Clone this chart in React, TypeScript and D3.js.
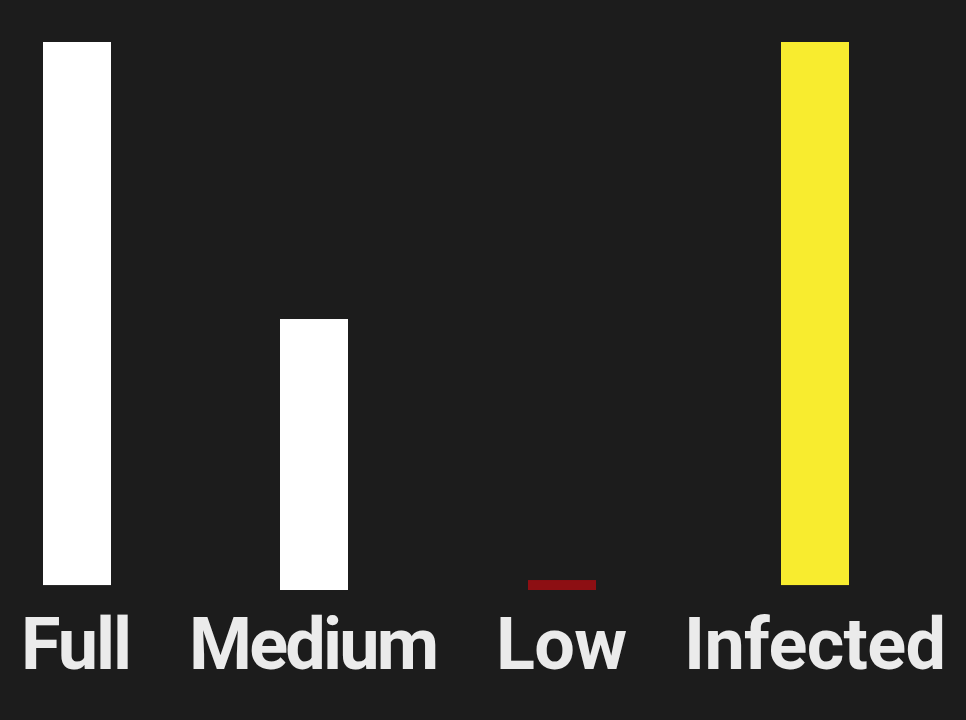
import React, { useEffect, useRef } from "react";
import * as d3 from "d3";

const categories = ["Full", "Medium", "Low", "Infected"];
const barStart = [0.9, 0, 0, 0.9];
const barEnd = [100, 49.45, 1.82, 100];
const barColors = ["#ffffff", "#ffffff", "#8d0f13", "#f8ec2f"];
const labelLengths = [111, 250, 131, 262];

const W = 966;
const H = 720;

export default function App() {
  const ref = useRef<SVGSVGElement | null>(null);

  useEffect(() => {
    const svg = d3.select(ref.current);
    svg.selectAll("*").remove();

    svg.append("rect").attr("width", W).attr("height", H).attr("fill", "#1c1c1c");

    const fontSize = 72;
    const labels = svg
      .append("g")
      .selectAll("text")
      .data(categories)
      .join("text")
      .text((d) => d)
      .attr("y", 669)
      .attr("fill", "#ebebeb")
      .attr("textLength", (_, i) => labelLengths[i])
      .attr("lengthAdjust", "spacing")
      .style("font-family", "Roboto, 'Liberation Sans', Arial, sans-serif")
      .style("font-weight", "bold")
      .style("font-size", `${fontSize}px`);

    const widths = labelLengths.slice();
    const total = d3.sum(widths);
    const left = 21;
    const right = 946;
    const gap = (right - left - total) / (categories.length - 1);
    const starts: number[] = [];
    let cursor = left;
    widths.forEach((w) => {
      starts.push(cursor);
      cursor += w + gap;
    });
    const xStart = d3.scaleOrdinal<string, number>().domain(categories).range(starts);
    const xCenter = (d: string) => xStart(d) + widths[categories.indexOf(d)] / 2;

    labels.attr("x", (d) => xStart(d));

    const y = d3.scaleLinear().domain([0, 100]).range([590, 42]);
    const bw = 68;

    svg
      .append("g")
      .selectAll("rect")
      .data(categories)
      .join("rect")
      .attr("x", (d) => Math.round(xCenter(d) - bw / 2))
      .attr("width", bw)
      .attr("y", (_, i) => y(barEnd[i]))
      .attr("height", (_, i) => y(barStart[i]) - y(barEnd[i]))
      .attr("fill", (_, i) => barColors[i]);
  }, []);

  return (
    <svg
      ref={ref}
      width={W}
      height={H}
      style={{ position: "absolute", left: 0, top: 0, display: "block" }}
    />
  );
}
